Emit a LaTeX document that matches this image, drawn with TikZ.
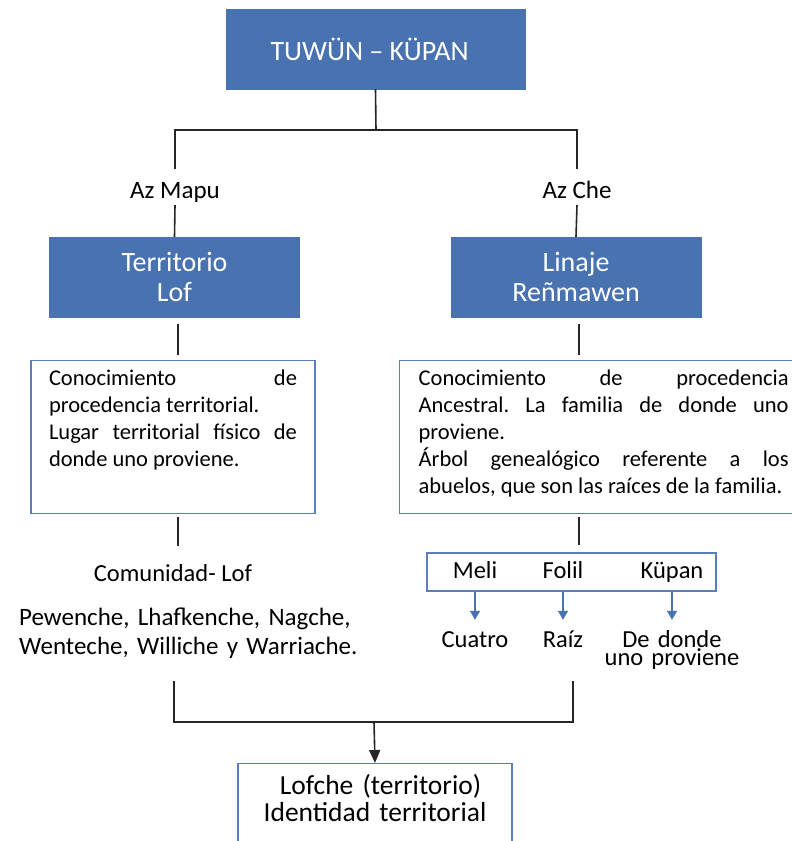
\documentclass[tikz,border=0pt]{standalone}
\usepackage{fontspec}
\setmainfont{Carlito}
\usepackage{tikz}
\usetikzlibrary{positioning}
\usetikzlibrary{arrows.meta}
\frenchspacing

\definecolor{boxblue}{RGB}{72,114,176}
\definecolor{lineblue}{RGB}{91,125,192}

\tikzset{
  headbox/.style={fill=boxblue,draw=boxblue,text=white,align=center,font=\fontsize{28}{30}\selectfont},
  link/.style={line width=1.6pt,black!85},
  branchlabel/.style={font=\fontsize{25}{29}\selectfont,inner sep=0pt,text height=29pt,text depth=7pt},
  notebox/.style={draw=lineblue,line width=1.3pt,align=justify,inner ysep=9pt,text depth=119pt,font=\fontsize{22.5}{27}\selectfont},
  word/.style={font=\fontsize{24.5}{18.5}\selectfont,inner sep=0pt},
  flow/.style={draw=boxblue,line width=1.2pt,-{Triangle[length=9pt,width=10pt]}},
}

\begin{document}
\begin{tikzpicture}[x=1pt,y=-1pt]
\useasboundingbox[fill=white] (0,0) rectangle (792,841);

\node[headbox,minimum width=299pt,minimum height=80pt] (title) at (375.5,49) {TUWÜN – KÜPAN\hspace*{12pt}};
\coordinate (split) at (376,130);

\node[branchlabel,anchor=base] (azMapu) at (175,198) {Az Mapu};
\node[branchlabel,anchor=base] (azChe) at (577,198) {Az Che};

\node[headbox,minimum width=250pt,minimum height=80pt] (lofL) at (174.5,277) {Territorio\\Lof};
\node[headbox,minimum width=250pt,minimum height=80pt] (lineage) at (576,277) {Linaje\\Reñmawen};

\draw[link] (title.south) -- (split);
\draw[link] (azMapu.north) |- (split) -| (azChe.north);
\draw[link] (azMapu.south) -- (lofL.north);
\draw[link] (azChe.south) -- (lineage.north);

% descriptions
\node[notebox,anchor=north,inner xsep=18pt,text width=248pt] (descL) at (173,360)
  {Conocimiento de\linebreak procedencia territorial.\newline Lugar territorial físico de\linebreak donde uno proviene.\par};
\node[notebox,anchor=north west,inner xsep=4pt,text width=392pt] (descR) at (399,360)
  {\leftskip=15pt\rightskip=7pt Conocimiento de procedencia\linebreak Ancestral. La familia de donde uno\linebreak proviene.\newline Árbol genealógico referente a los\linebreak abuelos, que son las raíces de la familia.\par};

\coordinate (spineL) at (178,0);
\coordinate (spineR) at (579,0);
\draw[link,shorten <=7pt,shorten >=5pt] (lofL.south -| spineL) -- (descL.north -| spineL);
\draw[link,shorten <=7pt,shorten >=5pt] (lineage.south -| spineR) -- (descR.north -| spineR);

% left column
\node[word,anchor=base] (community) at (173,581) {Comunidad- Lof};
\node[word,anchor=base west,font=\fontsize{25}{29}\selectfont,text width=345pt,align=left] (peoples) at (19,625)
  {Pewenche, Lhafkenche, Nagche,\\Wenteche, Williche y Warriache.};
\draw[link,shorten <=3pt,shorten >=18pt] (descL.south -| spineL) -- (community.north -| spineL);

% right column
\node[draw=lineblue,line width=1.3pt,minimum width=289pt,minimum height=38pt] (kinbox) at (571.5,572) {};
\node[word,anchor=base] (meli) at (475,578) {Meli};
\node[word,anchor=base] (folil) at (563,578) {Folil};
\node[word,anchor=base] (kupan) at (672,578) {Küpan};
\draw[link,shorten <=3pt,shorten >=7pt] (descR.south -| spineR) -- (kinbox.north -| spineR);

\node[word,anchor=base,text height=16pt] (cuatro) at (475,647) {Cuatro};
\node[word,anchor=base,text height=16pt] (raiz) at (563,647) {Raíz};
\node[word,anchor=base,text height=16pt,text width=150pt,align=center] (origin) at (672,647) {De donde\\uno proviene};

\draw[flow,shorten >=11pt] (meli |- kinbox.south) -- (meli |- cuatro.north);
\draw[flow,shorten >=11pt] (folil |- kinbox.south) -- (folil |- raiz.north);
\draw[flow,shorten >=11pt] (kupan |- kinbox.south) -- (kupan |- origin.north);

% merge
\node[draw=lineblue,line width=1.3pt,anchor=north,align=center,text width=250pt,inner xsep=12pt,inner ysep=11pt,text depth=80pt,font=\fontsize{27.5}{27}\selectfont] (identity) at (375,763)
  {\hspace*{11pt}Lofche (territorio)\\Identidad territorial\hspace*{6pt}};
\coordinate (joinL) at (174,681);
\coordinate (joinR) at (573,681);
\coordinate (merge) at (374,722);
\draw[link] (joinL) |- (merge) -| (joinR);
\draw[link,-{Triangle[length=13pt,width=11pt]}] (merge) -- (identity.north);

\end{tikzpicture}
\end{document}
